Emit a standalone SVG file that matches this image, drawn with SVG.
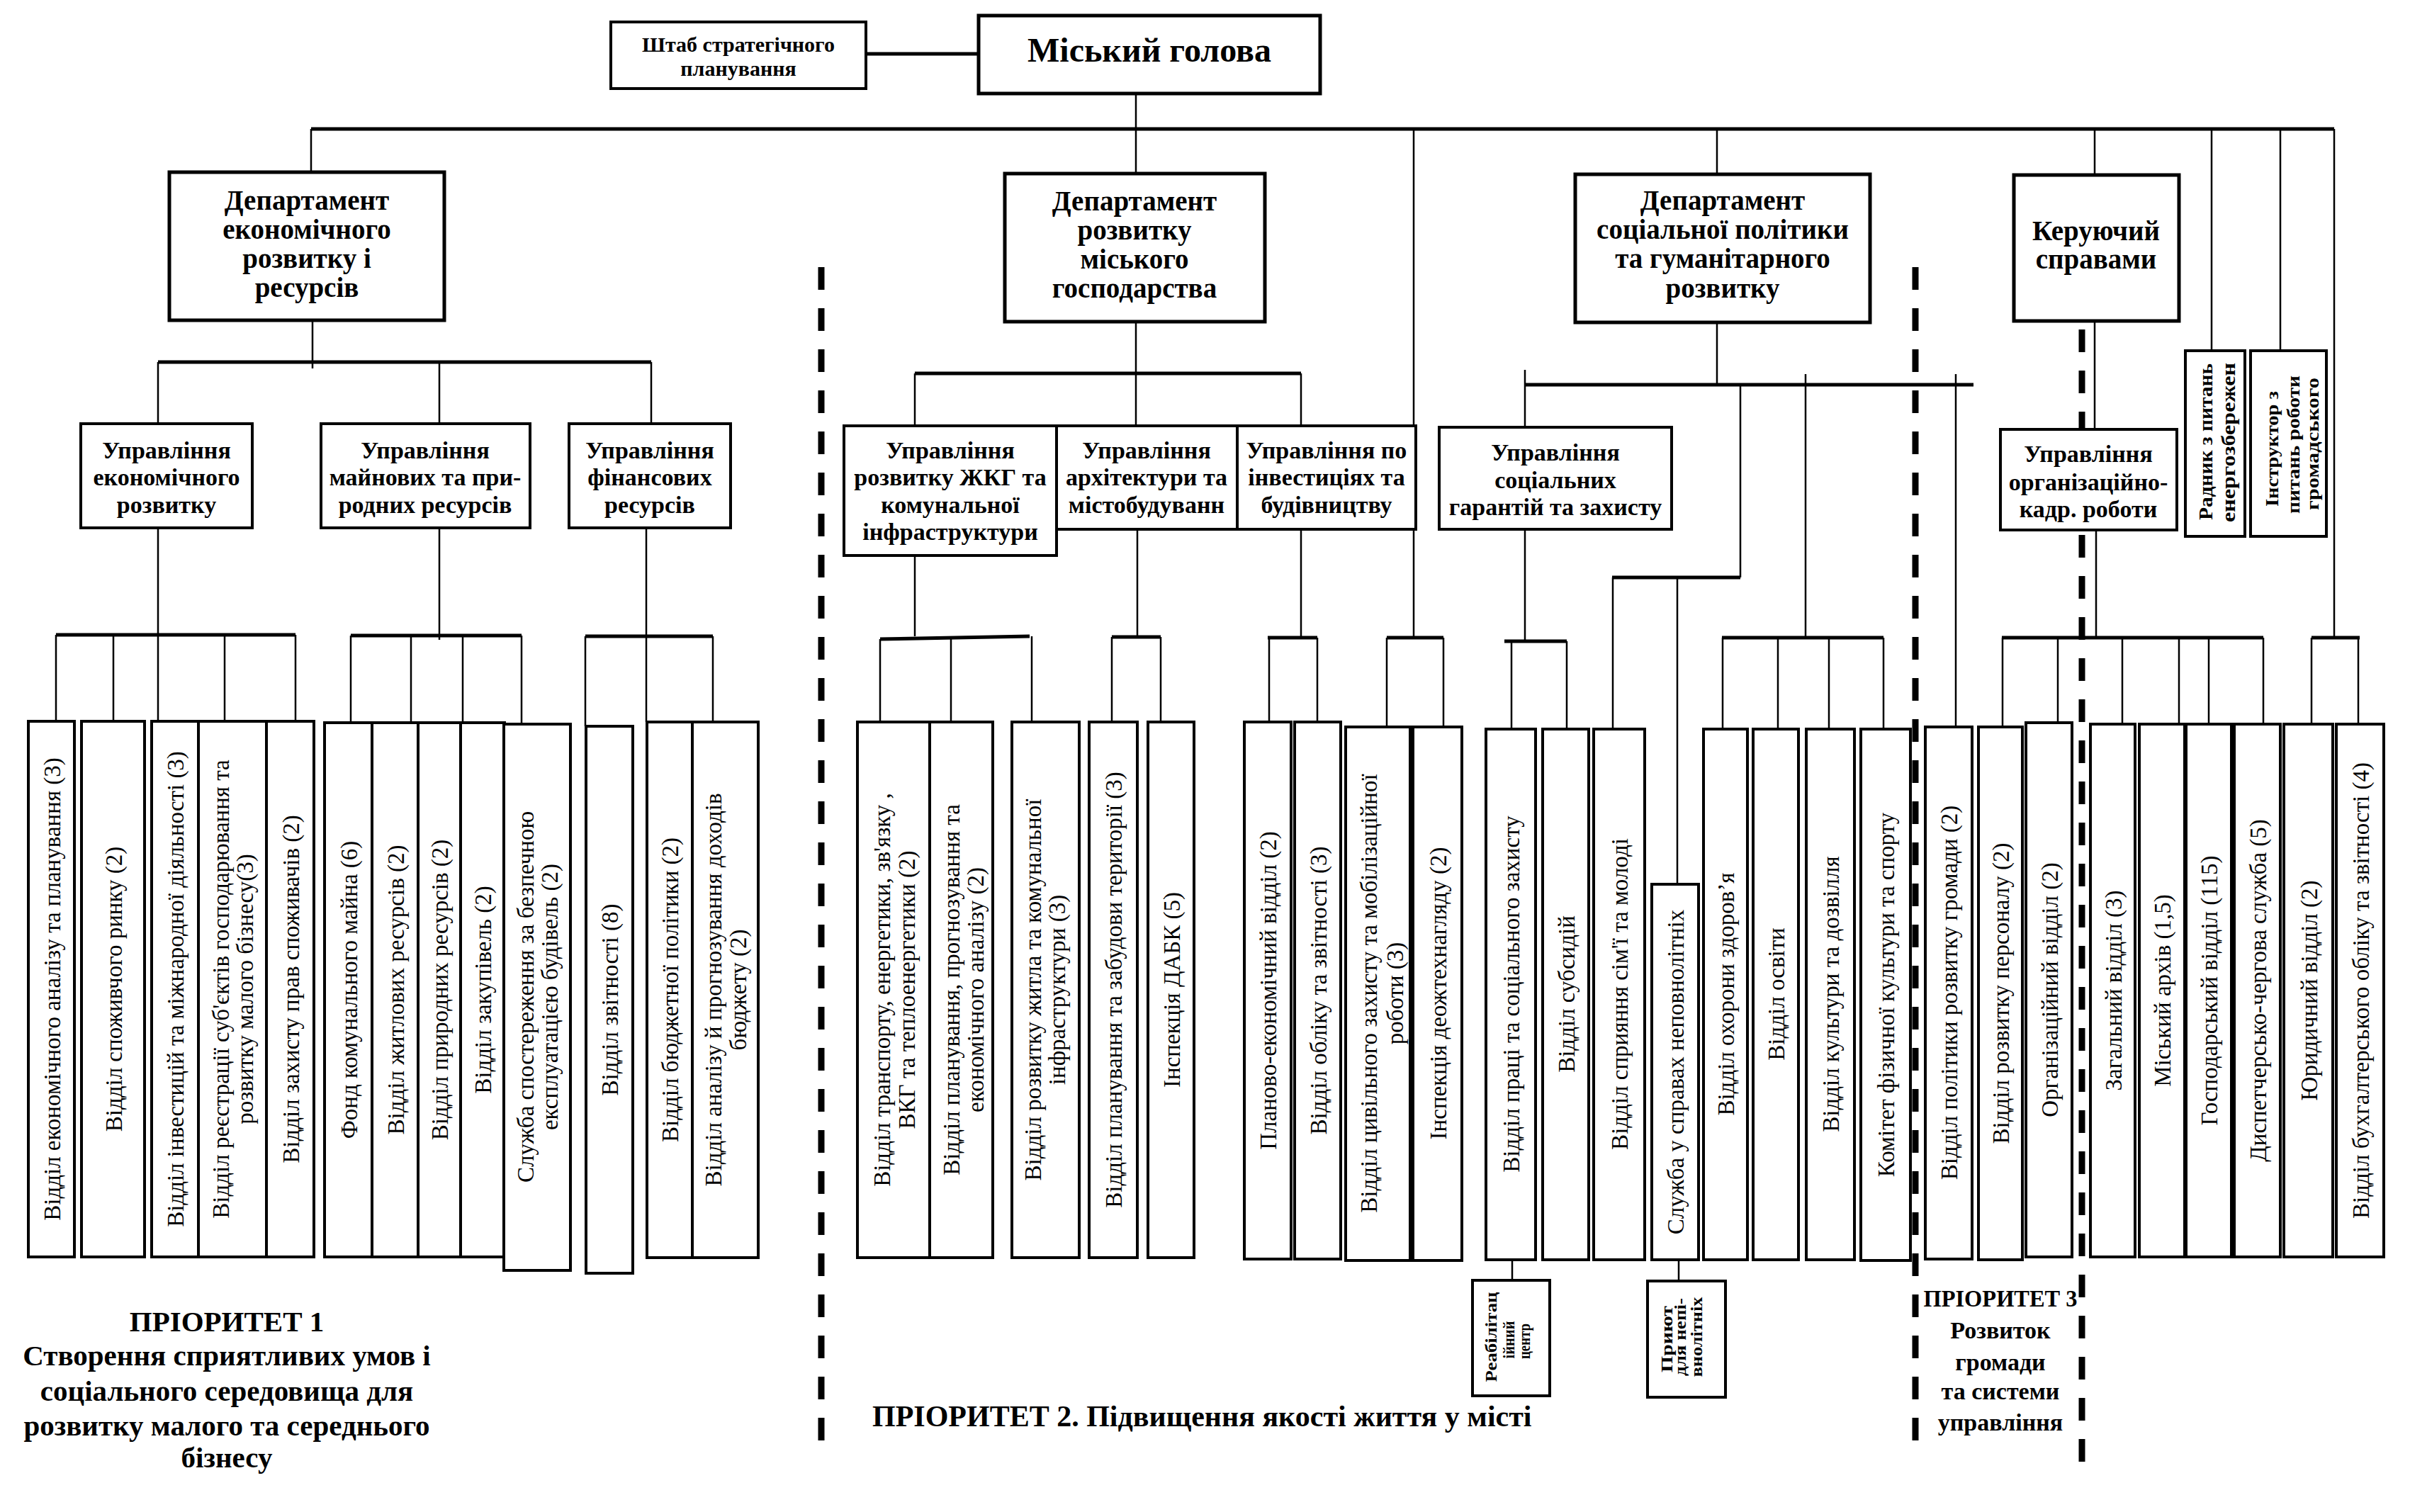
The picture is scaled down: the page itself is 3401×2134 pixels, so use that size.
<svg xmlns="http://www.w3.org/2000/svg" width="3401" height="2134" viewBox="0 0 3401 2134">
<style>
.box{fill:#fff;stroke:#000;stroke-width:4}
.bbox{fill:#fff;stroke:#000;stroke-width:5}
.thin{stroke:#000;stroke-width:2.5;fill:none}
.thick{stroke:#000;stroke-width:5;fill:none}
.dash{stroke:#000;stroke-width:9;stroke-dasharray:32 26;fill:none}
.hb{font-family:"Liberation Serif",serif;font-weight:bold;text-anchor:middle;fill:#000}
.f30{font-size:30px}.f48{font-size:48px}.f40{font-size:39px}.f34{font-size:34px}.f42{font-size:42px}.f41{font-size:41px}
.rt{font-family:"Liberation Serif",serif;font-size:33px;text-anchor:middle;fill:#000}
.sb{font-family:"Liberation Serif",serif;font-weight:bold;fill:#000}
</style>
<rect x="0" y="0" width="3401" height="2134" fill="#fff"/>

<g id="connectors">
<path class="thick" d="M1222 76H1381M439 182H3294M223 511H919M1291 527H1836M2152 543H2785M2275 815H2456M79 896H417M495 897H736M826 898H1006M1242 902L1453 898M1569 899H1638M1789 900H1859M1957 900H2037M2123 905H2211M2430 900H2658M2825 900H3194M3262 900H3330"/>
<path class="thin" d="M1603 132V245M439 182V243M2423 182V246M2956 182V247M1995 182V900M3121 182V495M3218 182V495M3294 182V900M441 452V520M223 511V598M620 511V598M919 511V598M1603 454V601M1291 527V601M1836 527V601M2423 455V543M2152 522V603M2548 528V900M2760 528V1026M2456 543V815M2956 453V606M223 745V1018M620 745V903M912 745V1019M1291 784V898M1605 747V899M1836 747V900M2152 747V905M2958 748V900M79 896V1018M160 896V1018M317 896V1018M417 896V1018M495 897V1020M580 897V1020M653 897V1020M736 897V1022M826 898V1025M1006 898V1019M1242 902V1019M1342 901V1019M1456 898V1019M1569 899V1019M1638 899V1019M1791 900V1019M1859 900V1019M1957 900V1026M2037 900V1026M2133 905V1029M2211 905V1029M2276 815V1029M2367 815V1248M2431 900V1029M2509 900V1029M2581 900V1029M2658 900V1029M2826 900V1026M2904 900V1020M2995 900V1022M3075 900V1022M3117 900V1022M3194 900V1022M3262 900V1022M3328 900V1022M2134 1778V1807M2369 1778V1807"/>
<path class="dash" d="M1159 377V2052M2703 377V2052M2938 465V2073"/>
</g>

<g id="shtab"><rect class="box" x="862" y="31" width="360" height="94"/><text class="hb f30"><tspan x="1042" y="73">Штаб стратегічного</tspan><tspan x="1042" y="107">планування</tspan></text></g>
<g id="mayor"><rect class="bbox" x="1381" y="22" width="482" height="110"/><text class="hb f48" x="1622" y="87">Міський голова</text></g>

<g id="dept1"><rect class="bbox" x="239" y="243" width="388" height="209"/><text class="hb f40"><tspan x="433" y="296">Департамент</tspan><tspan x="433" y="337">економічного</tspan><tspan x="433" y="378">розвитку і</tspan><tspan x="433" y="419">ресурсів</tspan></text></g>
<g id="dept2"><rect class="bbox" x="1418" y="245" width="367" height="209"/><text class="hb f40"><tspan x="1601" y="297">Департамент</tspan><tspan x="1601" y="338">розвитку</tspan><tspan x="1601" y="379">міського</tspan><tspan x="1601" y="420">господарства</tspan></text></g>
<g id="dept3"><rect class="bbox" x="2223" y="246" width="416" height="209"/><text class="hb f40"><tspan x="2431" y="296">Департамент</tspan><tspan x="2431" y="337">соціальної політики</tspan><tspan x="2431" y="378">та гуманітарного</tspan><tspan x="2431" y="420">розвитку</tspan></text></g>
<g id="kerivnyk"><rect class="bbox" x="2842" y="247" width="233" height="206"/><text class="hb f40"><tspan x="2958" y="339">Керуючий</tspan><tspan x="2958" y="379">справами</tspan></text></g>

<g id="u-econ"><rect class="box" x="114" y="598" width="242" height="147"/><text class="hb f34"><tspan x="235" y="647">Управління</tspan><tspan x="235" y="685">економічного</tspan><tspan x="235" y="724">розвитку</tspan></text></g>
<g id="u-mayno"><rect class="box" x="453" y="598" width="295" height="147"/><text class="hb f34"><tspan x="600" y="647">Управління</tspan><tspan x="600" y="685">майнових та при-</tspan><tspan x="600" y="724">родних ресурсів</tspan></text></g>
<g id="u-fin"><rect class="box" x="803" y="598" width="228" height="147"/><text class="hb f34"><tspan x="917" y="647">Управління</tspan><tspan x="917" y="685">фінансових</tspan><tspan x="917" y="724">ресурсів</tspan></text></g>
<g id="u-zhkg"><rect class="box" x="1191" y="601" width="300" height="183"/><text class="hb f34"><tspan x="1341" y="647">Управління</tspan><tspan x="1341" y="685">розвитку ЖКГ та</tspan><tspan x="1341" y="724">комунальної</tspan><tspan x="1341" y="762">інфраструктури</tspan></text></g>
<g id="u-arch"><rect class="box" x="1491" y="601" width="255" height="146"/><text class="hb f34"><tspan x="1618" y="647">Управління</tspan><tspan x="1618" y="685">архітектури та</tspan><tspan x="1618" y="724">містобудуванн</tspan></text></g>
<g id="u-invest"><rect class="box" x="1746" y="601" width="252" height="146"/><text class="hb f34"><tspan x="1872" y="647">Управління по</tspan><tspan x="1872" y="685">інвестиціях та</tspan><tspan x="1872" y="724">будівництву</tspan></text></g>
<g id="u-soc"><rect class="box" x="2031" y="603" width="328" height="144"/><text class="hb f34"><tspan x="2195" y="650">Управління</tspan><tspan x="2195" y="689">соціальних</tspan><tspan x="2195" y="727">гарантій та захисту</tspan></text></g>
<g id="u-org"><rect class="box" x="2823" y="606" width="249" height="142"/><text class="hb f34"><tspan x="2947" y="652">Управління</tspan><tspan x="2947" y="692">організаційно-</tspan><tspan x="2947" y="730">кадр. роботи</tspan></text></g>

<g id="radnyk"><rect class="box" x="3084" y="495" width="84" height="262"/><text class="sb" font-size="28" transform="rotate(-90)"><tspan x="-734" y="3122" textLength="221" lengthAdjust="spacingAndGlyphs">Радник з питань</tspan><tspan x="-737" y="3154" textLength="225" lengthAdjust="spacingAndGlyphs">енергозбережен</tspan></text></g>
<g id="instruktor"><rect class="box" x="3176" y="495" width="107" height="262"/><text class="sb" font-size="26" transform="rotate(-90)"><tspan x="-715" y="3215" textLength="163" lengthAdjust="spacingAndGlyphs">Інструктор з</tspan><tspan x="-725" y="3245" textLength="195" lengthAdjust="spacingAndGlyphs">питань роботи</tspan><tspan x="-720" y="3272" textLength="187" lengthAdjust="spacingAndGlyphs">громадського</tspan></text></g>

<g id="n1"><rect class="box" x="40" y="1018" width="65" height="756"/><text class="rt" transform="rotate(-90)" x="-1396" y="84.5">Відділ економічного аналізу та планування (3)</text></g>
<g id="n2"><rect class="box" x="115" y="1018" width="89" height="756"/><text class="rt" transform="rotate(-90)" x="-1396" y="171.5">Відділ споживчого ринку (2)</text></g>
<g id="n3"><rect class="box" x="214" y="1018" width="66" height="756"/><text class="rt" transform="rotate(-90)" x="-1396" y="259">Відділ інвестицій та міжнародної діяльності (3)</text></g>
<g id="n4"><rect class="box" x="280" y="1018" width="96" height="756"/><text class="rt" transform="rotate(-90)"><tspan x="-1396" y="323">Відділ реєстрації суб'єктів господарювання  та</tspan><tspan x="-1396" y="357">розвитку малого бізнесу(3)</tspan></text></g>
<g id="n5"><rect class="box" x="376" y="1018" width="67" height="756"/><text class="rt" transform="rotate(-90)" x="-1396" y="421.5">Відділ захисту прав споживачів (2)</text></g>
<g id="n6"><rect class="box" x="458" y="1020" width="67" height="754"/><text class="rt" transform="rotate(-90)" x="-1397" y="503.5">Фонд комунального майна (6)</text></g>
<g id="n7"><rect class="box" x="525" y="1020" width="65" height="754"/><text class="rt" transform="rotate(-90)" x="-1397" y="569.5">Відділ житлових ресурсів (2)</text></g>
<g id="n8"><rect class="box" x="590" y="1020" width="60" height="754"/><text class="rt" transform="rotate(-90)" x="-1397" y="632">Відділ природних ресурсів (2)</text></g>
<g id="n9"><rect class="box" x="650" y="1020" width="62" height="754"/><text class="rt" transform="rotate(-90)" x="-1397" y="693">Відділ закупівель (2)</text></g>
<g id="n10"><rect class="box" x="711" y="1022" width="94" height="771"/><text class="rt" transform="rotate(-90)"><tspan x="-1407" y="753">Служба спостереження за безпечною</tspan><tspan x="-1407" y="787">експлуатацією будівель (2)</tspan></text></g>
<g id="n11"><rect class="box" x="827" y="1025" width="66" height="772"/><text class="rt" transform="rotate(-90)" x="-1411" y="872">Відділ звітності (8)</text></g>
<g id="n12"><rect class="box" x="913" y="1019" width="64" height="756"/><text class="rt" transform="rotate(-90)" x="-1397" y="957">Відділ бюджетної політики (2)</text></g>
<g id="n13"><rect class="box" x="977" y="1019" width="93" height="756"/><text class="rt" transform="rotate(-90)"><tspan x="-1397" y="1018">Відділ аналізу й прогнозування доходів</tspan><tspan x="-1397" y="1053">бюджету (2)</tspan></text></g>
<g id="n14"><rect class="box" x="1210" y="1019" width="102" height="756"/><text class="rt" transform="rotate(-90)"><tspan x="-1397" y="1256">Відділ транспорту, енергетики, зв'язку ,</tspan><tspan x="-1397" y="1291">ВКГ та теплоенергетики (2)</tspan></text></g>
<g id="n15"><rect class="box" x="1312" y="1019" width="89" height="756"/><text class="rt" transform="rotate(-90)"><tspan x="-1397" y="1354">Відділ планування, прогнозування та</tspan><tspan x="-1397" y="1388">економічного аналізу (2)</tspan></text></g>
<g id="n16"><rect class="box" x="1428" y="1019" width="95" height="756"/><text class="rt" transform="rotate(-90)"><tspan x="-1397" y="1469">Відділ розвитку житла та комунальної</tspan><tspan x="-1397" y="1503">інфраструктури (3)</tspan></text></g>
<g id="n17"><rect class="box" x="1537" y="1019" width="68" height="756"/><text class="rt" transform="rotate(-90)" x="-1397" y="1583">Відділ планування та забудови території (3)</text></g>
<g id="n18"><rect class="box" x="1620" y="1019" width="65" height="756"/><text class="rt" transform="rotate(-90)" x="-1397" y="1664.5">Інспекція ДАБК (5)</text></g>
<g id="n19"><rect class="box" x="1756" y="1019" width="66" height="758"/><text class="rt" transform="rotate(-90)" x="-1398" y="1801">Планово-економічний відділ (2)</text></g>
<g id="n20"><rect class="box" x="1827" y="1019" width="65" height="758"/><text class="rt" transform="rotate(-90)" x="-1398" y="1871.5">Відділ обліку та звітності (3)</text></g>
<g id="n21"><rect class="box" x="1899" y="1026" width="91" height="753"/><text class="rt" transform="rotate(-90)"><tspan x="-1402" y="1943">Відділ цивільного захисту та мобілізаційної</tspan><tspan x="-1402" y="1980">роботи (3)</tspan></text></g>
<g id="n22"><rect class="box" x="1994" y="1026" width="69" height="753"/><text class="rt" transform="rotate(-90)" x="-1402" y="2040.5">Інспекція  деожтехнагляду (2)</text></g>
<g id="n23"><rect class="box" x="2097" y="1029" width="70" height="749"/><text class="rt" transform="rotate(-90)" x="-1403" y="2144">Відділ праці та  соціального захисту</text></g>
<g id="n24"><rect class="box" x="2177" y="1029" width="65" height="749"/><text class="rt" transform="rotate(-90)" x="-1403" y="2221.5">Відділ субсидій</text></g>
<g id="n25"><rect class="box" x="2249" y="1029" width="72" height="749"/><text class="rt" transform="rotate(-90)" x="-1403" y="2297">Відділ сприяння сім'ї та молоді</text></g>
<g id="n26"><rect class="box" x="2331" y="1248" width="66" height="530"/><text class="rt" transform="rotate(-90)" x="-1513" y="2376">Служба у справах неповнолітніх</text></g>
<g id="n27"><rect class="box" x="2404" y="1029" width="62" height="749"/><text class="rt" transform="rotate(-90)" x="-1403" y="2447">Відділ охорони здоров’я</text></g>
<g id="n28"><rect class="box" x="2474" y="1029" width="64" height="749"/><text class="rt" transform="rotate(-90)" x="-1403" y="2518">Відділ освіти</text></g>
<g id="n29"><rect class="box" x="2549" y="1029" width="68" height="749"/><text class="rt" transform="rotate(-90)" x="-1403" y="2595">Відділ культури та дозвілля</text></g>
<g id="n30"><rect class="box" x="2626" y="1029" width="70" height="750"/><text class="rt" transform="rotate(-90)" x="-1404" y="2673">Комітет фізичної культури та спорту</text></g>
<g id="n31"><rect class="box" x="2717" y="1026" width="66" height="751"/><text class="rt" transform="rotate(-90)" x="-1401" y="2762">Відділ політики розвитку громади (2)</text></g>
<g id="n32"><rect class="box" x="2792" y="1026" width="62" height="752"/><text class="rt" transform="rotate(-90)" x="-1402" y="2835">Відділ розвитку персоналу (2)</text></g>
<g id="n33"><rect class="box" x="2859" y="1020" width="65" height="754"/><text class="rt" transform="rotate(-90)" x="-1397" y="2903.5">Організаційний відділ (2)</text></g>
<g id="n34"><rect class="box" x="2950" y="1022" width="63" height="752"/><text class="rt" transform="rotate(-90)" x="-1398" y="2993.5">Загальний відділ (3)</text></g>
<g id="n35"><rect class="box" x="3019" y="1022" width="64" height="752"/><text class="rt" transform="rotate(-90)" x="-1398" y="3063">Міський архів  (1,5)</text></g>
<g id="n36"><rect class="box" x="3085" y="1022" width="64" height="752"/><text class="rt" transform="rotate(-90)" x="-1398" y="3129">Господарський відділ (115)</text></g>
<g id="n37"><rect class="box" x="3153" y="1022" width="65" height="752"/><text class="rt" transform="rotate(-90)" x="-1398" y="3197.5">Диспетчерсько-чергова служба (5)</text></g>
<g id="n38"><rect class="box" x="3223" y="1022" width="69" height="752"/><text class="rt" transform="rotate(-90)" x="-1398" y="3269.5">Юридичний відділ (2)</text></g>
<g id="n39"><rect class="box" x="3297" y="1022" width="67" height="752"/><text class="rt" transform="rotate(-90)" x="-1398" y="3342.5">Відділ бухгалтерського обліку та звітності (4)</text></g>

<g id="reabilit"><rect class="box" x="2078" y="1807" width="109" height="163"/><text class="sb" font-size="24" text-anchor="middle" transform="rotate(-90)"><tspan x="-1887" y="2112" textLength="127" lengthAdjust="spacingAndGlyphs">Реабілітац</tspan><tspan x="-1891" y="2137" textLength="53" lengthAdjust="spacingAndGlyphs">ійний</tspan><tspan x="-1893" y="2159" textLength="50" lengthAdjust="spacingAndGlyphs">центр</tspan></text></g>
<g id="pryiut"><rect class="box" x="2325" y="1808" width="110" height="164"/><text class="sb" font-size="24" text-anchor="middle" transform="rotate(-90)"><tspan x="-1890" y="2360" textLength="94" lengthAdjust="spacingAndGlyphs">Приют</tspan><tspan x="-1887" y="2379" textLength="110" lengthAdjust="spacingAndGlyphs">для непі-</tspan><tspan x="-1887" y="2402" textLength="113" lengthAdjust="spacingAndGlyphs">внолітніх</tspan></text></g>

<g id="priority1"><text class="hb f41"><tspan x="320" y="1879">ПРІОРИТЕТ 1</tspan><tspan x="320" y="1927">Створення сприятливих умов і</tspan><tspan x="320" y="1977">соціального середовища для</tspan><tspan x="320" y="2026">розвитку малого та середнього</tspan><tspan x="320" y="2071">бізнесу</tspan></text></g>
<g id="priority2"><text class="hb f42" style="text-anchor:start" x="1231" y="2013">ПРІОРИТЕТ 2. Підвищення якості життя у місті</text></g>
<g id="priority3"><text class="hb f34"><tspan x="2823" y="1844" textLength="217" lengthAdjust="spacingAndGlyphs">ПРІОРИТЕТ 3</tspan><tspan x="2823" y="1889">Розвиток</tspan><tspan x="2823" y="1934">громади</tspan><tspan x="2823" y="1975">та системи</tspan><tspan x="2823" y="2019">управління</tspan></text></g>
</svg>
